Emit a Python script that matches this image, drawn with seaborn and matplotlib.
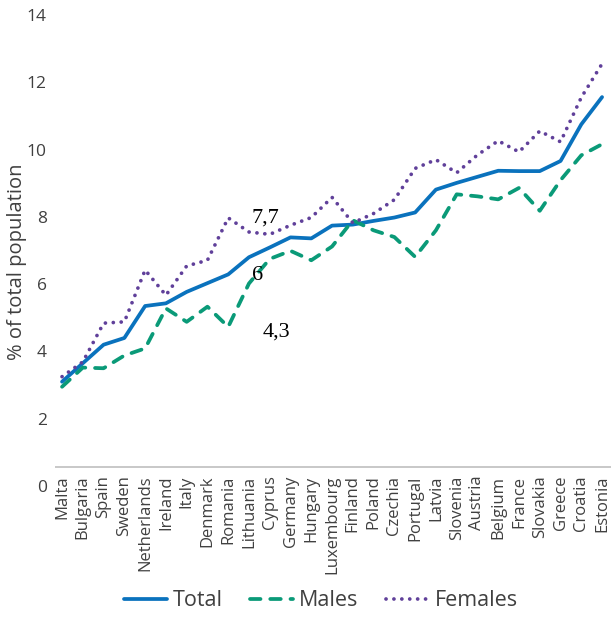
import matplotlib
matplotlib.use("Agg")
import numpy as np
import pandas as pd
import seaborn as sns
import matplotlib.pyplot as plt

countries = ['Malta', 'Bulgaria', 'Spain', 'Sweden', 'Netherlands', 'Ireland', 'Italy',
             'Denmark', 'Romania', 'Lithuania', 'Cyprus', 'Germany', 'Hungary',
             'Luxembourg', 'Finland', 'Poland', 'Czechia', 'Portugal', 'Latvia',
             'Slovenia', 'Austria', 'Belgium', 'France', 'Slovakia', 'Greece',
             'Croatia', 'Estonia']
total = [3.1, 3.65, 4.2, 4.4, 5.35, 5.43, 5.77, 6.03, 6.29, 6.8, 7.09, 7.39, 7.36,
         7.74, 7.77, 7.88, 7.98, 8.13, 8.81, 9.01, 9.19, 9.37, 9.36, 9.36, 9.66,
         10.75, 11.56]
males = [2.95, 3.52, 3.5, 3.88, 4.09, 5.28, 4.88, 5.33, 4.73, 6.02, 6.75, 6.99, 6.71,
         7.12, 7.9, 7.6, 7.4, 6.81, 7.6, 8.67, 8.61, 8.52, 8.86, 8.18, 9.09,
         9.83, 10.16]
females = [3.25, 3.69, 4.84, 4.88, 6.42, 5.67, 6.54, 6.71, 7.97, 7.55, 7.48, 7.75, 7.98,
           8.58, 7.82, 8.1, 8.51, 9.44, 9.7, 9.31, 9.84, 10.26, 9.93, 10.55, 10.23,
           11.55, 12.55]

series = ['Total', 'Males', 'Females']
colors = {'Total': '#0a72bd', 'Males': '#0a9a78', 'Females': '#60409a'}
dashes = {'Total': '', 'Males': (2.8, 2.6), 'Females': (0.01, 2.1)}

# annotations (text, x position, y value)
notes = [('7,7', 9.77, 7.97), ('6', 9.39, 6.25), ('4,3', 10.3, 4.58)]

pos = np.arange(len(countries))
df = pd.concat([
    pd.DataFrame({'pos': pos, 'value': total, 'series': 'Total'}),
    pd.DataFrame({'pos': pos, 'value': males, 'series': 'Males'}),
    pd.DataFrame({'pos': pos, 'value': females, 'series': 'Females'}),
])

sns.set_style("white")
plt.rcParams['font.family'] = ['Open Sans', 'DejaVu Sans']
grey = '#404040'

fig = plt.figure(figsize=(6.11, 6.17), dpi=100)
ax = fig.add_axes([0.09, 0.2123, 0.91, 0.7634])

sns.lineplot(data=df, x='pos', y='value', hue='series', style='series',
             hue_order=series, style_order=series, palette=colors, dashes=dashes,
             linewidth=2.7, dash_capstyle='round', sort=False, ax=ax)

ax.set_xlim(-0.34, 26.43)
ax.set_ylim(0, 14)
ax.set_yticks(range(0, 15, 2))
ax.set_xticks(pos)
ax.set_xticklabels(countries, rotation=90, fontsize=12, color=grey)
ax.tick_params(axis='y', labelsize=12.5, labelcolor=grey, length=0, pad=6)
ax.tick_params(axis='x', length=0, pad=-7.5)
for s in ax.spines.values():
    s.set_visible(False)
ax.axhline(0.56, color='#bfbfbf', lw=1.2, zorder=0)

ax.set_xlabel('')
ax.set_ylabel('% of total population', fontsize=14.5, color=grey)
ax.yaxis.set_label_coords(-0.050, 0.4756)

for txt, x, y in notes:
    ax.text(x, y, txt, family='Liberation Serif', fontsize=16, color='black',
            ha='center', va='center')

sns.move_legend(ax, 'center', bbox_to_anchor=(0.525, 0.026), bbox_transform=fig.transFigure,
                ncol=3, title=None, frameon=False, fontsize=15.5, handlelength=2.0,
                handletextpad=0.25, columnspacing=1.3)
for t in ax.get_legend().get_texts():
    t.set_color(grey)

plt.savefig('out.png', dpi=100)
